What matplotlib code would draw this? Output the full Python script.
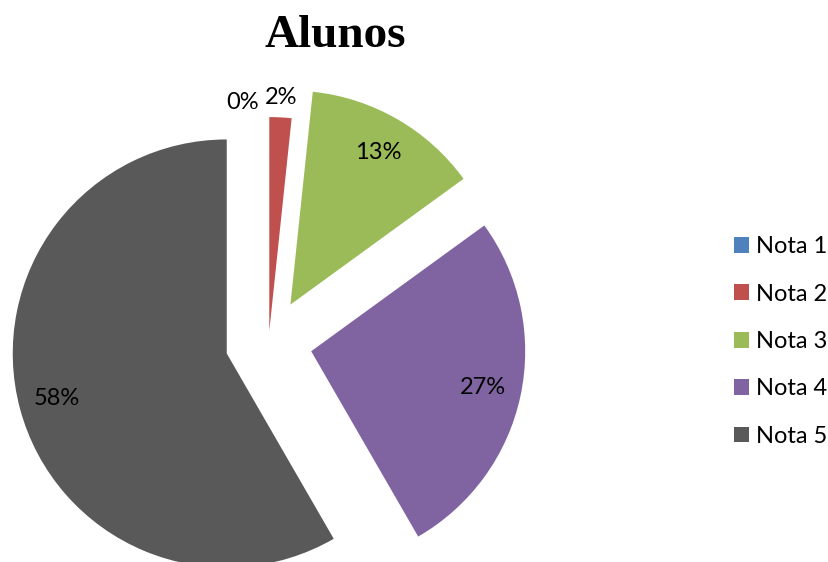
import numpy as np
import matplotlib
matplotlib.use("Agg")
import matplotlib.pyplot as plt

# Student grade counts
labels = ["Nota 1", "Nota 2", "Nota 3", "Nota 4", "Nota 5"]
values = [0, 1, 8, 16, 35]
colors = ["#4F81BD", "#C0504D", "#9BBB59", "#8064A2", "#595959"]
explode = [0.05, 0.052, 0.203, 0.203, 0.203]

W, H = 829, 562
fig = plt.figure(figsize=(W / 100, H / 100), dpi=100)
ax = fig.add_axes([0, 0, 1, 1])

label_font = {"family": ["Lato", "DejaVu Sans"], "size": 17}

wedges, texts, autotexts = ax.pie(
    values,
    colors=colors,
    explode=explode,
    startangle=90,
    counterclock=False,
    autopct="%.0f%%",
    pctdistance=0.82,
    radius=1.0,
    wedgeprops={"linewidth": 0},
    textprops=label_font,
)

# Small slices get their percentages outside the pie
for i, (w, t) in enumerate(zip(wedges, autotexts)):
    mid = np.deg2rad((w.theta1 + w.theta2) / 2)
    cx, cy = w.center
    if values[i] == 0:
        ang = mid + np.deg2rad(6.4)
        t.set_position((cx + 1.075 * np.cos(ang), cy + 1.075 * np.sin(ang)))
    elif values[i] / sum(values) < 0.05:
        t.set_position((cx + 1.095 * np.cos(mid), cy + 1.095 * np.sin(mid)))
    t.set_color("black")

# 1 data unit = 214 px, pie centre at pixel (268.7, 342.2) from top-left
scale = 214.0
cx_px, cy_px = 268.7, H - 342.2
ax.set_aspect("auto")
ax.set_xlim(-cx_px / scale, (W - cx_px) / scale)
ax.set_ylim(-cy_px / scale, (H - cy_px) / scale)
ax.axis("off")

fig.text(335 / W, (H - 46.7) / H, "Alunos", ha="center", va="baseline",
         fontsize=34, fontweight="bold",
         family=["Liberation Serif", "DejaVu Serif"])

fig.legend(
    wedges, labels,
    loc="center left",
    bbox_to_anchor=(734 / W, (H - 341.5) / H),
    frameon=False,
    borderpad=0, borderaxespad=0,
    handlelength=0.64, handleheight=0.64,
    handletextpad=0.3,
    labelspacing=1.12,
    prop={"family": ["Lato", "DejaVu Sans"], "size": 17},
)

fig.savefig("out.png", dpi=100)
